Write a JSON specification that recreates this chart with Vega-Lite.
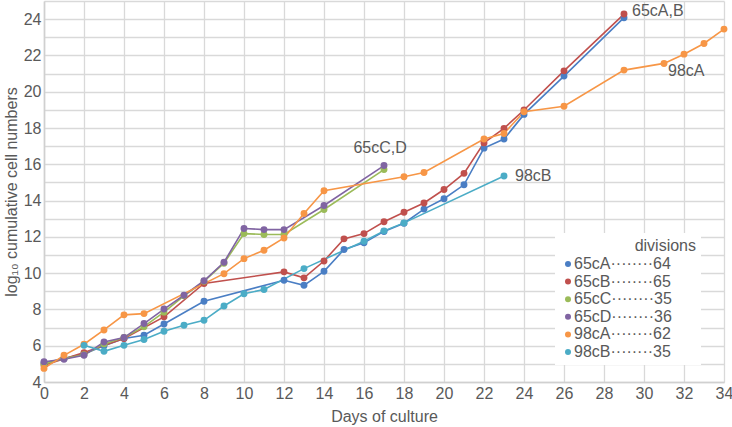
{
  "$schema": "https://vega.github.io/schema/vega-lite/v6.json",
  "width": 680,
  "height": 381,
  "autosize": {"type": "none"},
  "padding": {"left": 44, "top": 1, "right": 8, "bottom": 45},
  "background": "white",
  "config": {
    "view": {"stroke": null},
    "font": "Liberation Sans",
    "axis": {
      "gridColor": "#d9d9d9",
      "gridWidth": 1.3,
      "domainColor": "#d0d0d0",
      "domainWidth": 1.6,
      "ticks": false,
      "labelOverlap": false,
      "labelFont": "Liberation Sans",
      "labelFontSize": 16,
      "labelColor": "#595959",
      "titleFont": "Liberation Sans",
      "titleFontSize": 16,
      "titleFontWeight": "normal",
      "titleColor": "#595959"
    },
    "legend": {
      "labelFont": "Liberation Sans",
      "titleFont": "Liberation Sans"
    }
  },
  "datasets": {
    "series": [
      {"series": "65cA", "day": 0, "value": 5.05},
      {"series": "65cA", "day": 1, "value": 5.3},
      {"series": "65cA", "day": 2, "value": 5.55},
      {"series": "65cA", "day": 3, "value": 6.0},
      {"series": "65cA", "day": 4, "value": 6.4},
      {"series": "65cA", "day": 5, "value": 6.58},
      {"series": "65cA", "day": 6, "value": 7.2},
      {"series": "65cA", "day": 8, "value": 8.45},
      {"series": "65cA", "day": 12, "value": 9.61},
      {"series": "65cA", "day": 13, "value": 9.33},
      {"series": "65cA", "day": 14, "value": 10.1},
      {"series": "65cA", "day": 15, "value": 11.3},
      {"series": "65cA", "day": 16, "value": 11.67},
      {"series": "65cA", "day": 17, "value": 12.3},
      {"series": "65cA", "day": 18, "value": 12.75},
      {"series": "65cA", "day": 19, "value": 13.53},
      {"series": "65cA", "day": 20, "value": 14.1},
      {"series": "65cA", "day": 21, "value": 14.87},
      {"series": "65cA", "day": 22, "value": 16.89},
      {"series": "65cA", "day": 23, "value": 17.39},
      {"series": "65cA", "day": 24, "value": 18.75},
      {"series": "65cA", "day": 26, "value": 20.86},
      {"series": "65cA", "day": 29, "value": 24.08},
      {"series": "65cB", "day": 0, "value": 4.92},
      {"series": "65cB", "day": 2, "value": 5.62},
      {"series": "65cB", "day": 4, "value": 6.4},
      {"series": "65cB", "day": 6, "value": 7.59},
      {"series": "65cB", "day": 8, "value": 9.43},
      {"series": "65cB", "day": 12, "value": 10.07},
      {"series": "65cB", "day": 13, "value": 9.74},
      {"series": "65cB", "day": 14, "value": 10.67},
      {"series": "65cB", "day": 15, "value": 11.89},
      {"series": "65cB", "day": 16, "value": 12.18},
      {"series": "65cB", "day": 17, "value": 12.83},
      {"series": "65cB", "day": 18, "value": 13.36},
      {"series": "65cB", "day": 19, "value": 13.87},
      {"series": "65cB", "day": 20, "value": 14.61},
      {"series": "65cB", "day": 21, "value": 15.5},
      {"series": "65cB", "day": 22, "value": 17.18},
      {"series": "65cB", "day": 23, "value": 17.98},
      {"series": "65cB", "day": 24, "value": 18.99},
      {"series": "65cB", "day": 26, "value": 21.15},
      {"series": "65cB", "day": 29, "value": 24.28},
      {"series": "65cC", "day": 0, "value": 5.0},
      {"series": "65cC", "day": 1, "value": 5.3},
      {"series": "65cC", "day": 2, "value": 5.5},
      {"series": "65cC", "day": 3, "value": 6.1},
      {"series": "65cC", "day": 4, "value": 6.45},
      {"series": "65cC", "day": 5, "value": 7.05},
      {"series": "65cC", "day": 6, "value": 7.85},
      {"series": "65cC", "day": 7, "value": 8.75},
      {"series": "65cC", "day": 8, "value": 9.55},
      {"series": "65cC", "day": 9, "value": 10.55},
      {"series": "65cC", "day": 10, "value": 12.18},
      {"series": "65cC", "day": 11, "value": 12.13},
      {"series": "65cC", "day": 12, "value": 12.13},
      {"series": "65cC", "day": 14, "value": 13.51},
      {"series": "65cC", "day": 17, "value": 15.71},
      {"series": "65cD", "day": 0, "value": 5.12},
      {"series": "65cD", "day": 1, "value": 5.25},
      {"series": "65cD", "day": 2, "value": 5.47},
      {"series": "65cD", "day": 3, "value": 6.2},
      {"series": "65cD", "day": 4, "value": 6.45},
      {"series": "65cD", "day": 5, "value": 7.22},
      {"series": "65cD", "day": 6, "value": 8.02},
      {"series": "65cD", "day": 7, "value": 8.78},
      {"series": "65cD", "day": 8, "value": 9.58},
      {"series": "65cD", "day": 9, "value": 10.6},
      {"series": "65cD", "day": 10, "value": 12.46},
      {"series": "65cD", "day": 11, "value": 12.4},
      {"series": "65cD", "day": 12, "value": 12.4},
      {"series": "65cD", "day": 14, "value": 13.73},
      {"series": "65cD", "day": 17, "value": 15.93},
      {"series": "98cA", "day": 0, "value": 4.75},
      {"series": "98cA", "day": 1, "value": 5.47},
      {"series": "98cA", "day": 2, "value": 6.08},
      {"series": "98cA", "day": 3, "value": 6.87},
      {"series": "98cA", "day": 4, "value": 7.7},
      {"series": "98cA", "day": 5, "value": 7.77},
      {"series": "98cA", "day": 9, "value": 9.97},
      {"series": "98cA", "day": 10, "value": 10.8},
      {"series": "98cA", "day": 11, "value": 11.26},
      {"series": "98cA", "day": 12, "value": 11.94},
      {"series": "98cA", "day": 13, "value": 13.29},
      {"series": "98cA", "day": 14, "value": 14.54},
      {"series": "98cA", "day": 18, "value": 15.31},
      {"series": "98cA", "day": 19, "value": 15.55},
      {"series": "98cA", "day": 22, "value": 17.39},
      {"series": "98cA", "day": 23, "value": 17.7},
      {"series": "98cA", "day": 24, "value": 18.9},
      {"series": "98cA", "day": 26, "value": 19.2},
      {"series": "98cA", "day": 29, "value": 21.19},
      {"series": "98cA", "day": 31, "value": 21.56},
      {"series": "98cA", "day": 32, "value": 22.07},
      {"series": "98cA", "day": 33, "value": 22.66},
      {"series": "98cA", "day": 34, "value": 23.45},
      {"series": "98cB", "day": 2, "value": 6.02},
      {"series": "98cB", "day": 3, "value": 5.69},
      {"series": "98cB", "day": 4, "value": 6.02},
      {"series": "98cB", "day": 5, "value": 6.34},
      {"series": "98cB", "day": 6, "value": 6.8},
      {"series": "98cB", "day": 7, "value": 7.13},
      {"series": "98cB", "day": 8, "value": 7.4},
      {"series": "98cB", "day": 9, "value": 8.19},
      {"series": "98cB", "day": 10, "value": 8.86},
      {"series": "98cB", "day": 11, "value": 9.1},
      {"series": "98cB", "day": 13, "value": 10.25},
      {"series": "98cB", "day": 16, "value": 11.76},
      {"series": "98cB", "day": 17, "value": 12.33},
      {"series": "98cB", "day": 18, "value": 12.77},
      {"series": "98cB", "day": 23, "value": 15.35}
    ],
    "labels": [
      {"label": "65cA,B", "day": 29.4, "value": 24.45},
      {"label": "98cA", "day": 31.2, "value": 21.14},
      {"label": "65cC,D", "day": 15.47, "value": 16.9},
      {"label": "98cB", "day": 23.55, "value": 15.35}
    ]
  },
  "encoding": {
    "x": {
      "field": "day", "type": "quantitative",
      "scale": {"domain": [0, 34], "nice": false, "zero": false},
      "axis": {
        "title": "Days of culture",
        "values": [0, 2, 4, 6, 8, 10, 12, 14, 16, 18, 20, 22, 24, 26, 28, 30, 32, 34],
        "labelOverlap": false,
        "labelPadding": 3,
        "titlePadding": 7,
        "labelFlush": false
      }
    },
    "y": {
      "field": "value", "type": "quantitative",
      "scale": {"domain": [4, 25], "nice": false, "zero": false},
      "axis": {
        "title": "log₁₀ cumulative cell numbers",
        "values": [4, 5, 6, 7, 8, 9, 10, 11, 12, 13, 14, 15, 16, 17, 18, 19, 20, 21, 22, 23, 24, 25],
        "labelExpr": "datum.value % 2 == 0 ? datum.label : ''",
        "labelOverlap": false,
        "labelPadding": 3,
        "titlePadding": 4,
        "labelFlush": false
      }
    }
  },
  "layer": [
    {
      "data": {"name": "series"},
      "mark": {"type": "line", "strokeWidth": 1.6},
      "encoding": {
        "color": {"field": "series", "type": "nominal"},
        "order": {"field": "day", "type": "quantitative"}
      }
    },
    {
      "data": {"name": "series"},
      "mark": {"type": "point", "filled": true, "size": 48, "opacity": 1},
      "encoding": {
        "color": {
          "field": "series", "type": "nominal",
          "scale": {
            "domain": ["65cA", "65cB", "65cC", "65cD", "98cA", "98cB"],
            "range": ["#4a7ec4", "#c0504d", "#9bbb59", "#8064a2", "#f79646", "#4bacc6"]
          },
          "legend": {
            "orient": "none",
            "legendX": 511,
            "legendY": 232,
            "title": "divisions",
            "titleAnchor": "end",
            "titleFontSize": 16,
            "titleFontWeight": "normal",
            "titleColor": "#595959",
            "titlePadding": 2,
            "labelFontSize": 16,
            "labelColor": "#595959",
            "labelOffset": -2,
            "labelLimit": 300,
            "symbolType": "circle",
            "symbolSize": 36,
            "symbolStrokeWidth": 0,
            "rowPadding": 1.6,
            "padding": 5,
            "fillColor": "white",
            "labelExpr": "datum.label + '········' + (datum.label == '65cA' ? '64' : datum.label == '65cB' ? '65' : datum.label == '65cC' ? '35' : datum.label == '65cD' ? '36' : datum.label == '98cA' ? '62' : '35') + '\u2800\u2800'"
          }
        }
      }
    },
    {
      "data": {"name": "labels"},
      "mark": {"type": "text", "align": "left", "baseline": "middle", "fontSize": 16, "color": "#595959", "font": "Liberation Sans"},
      "encoding": {
        "text": {"field": "label"}
      }
    }
  ]
}
